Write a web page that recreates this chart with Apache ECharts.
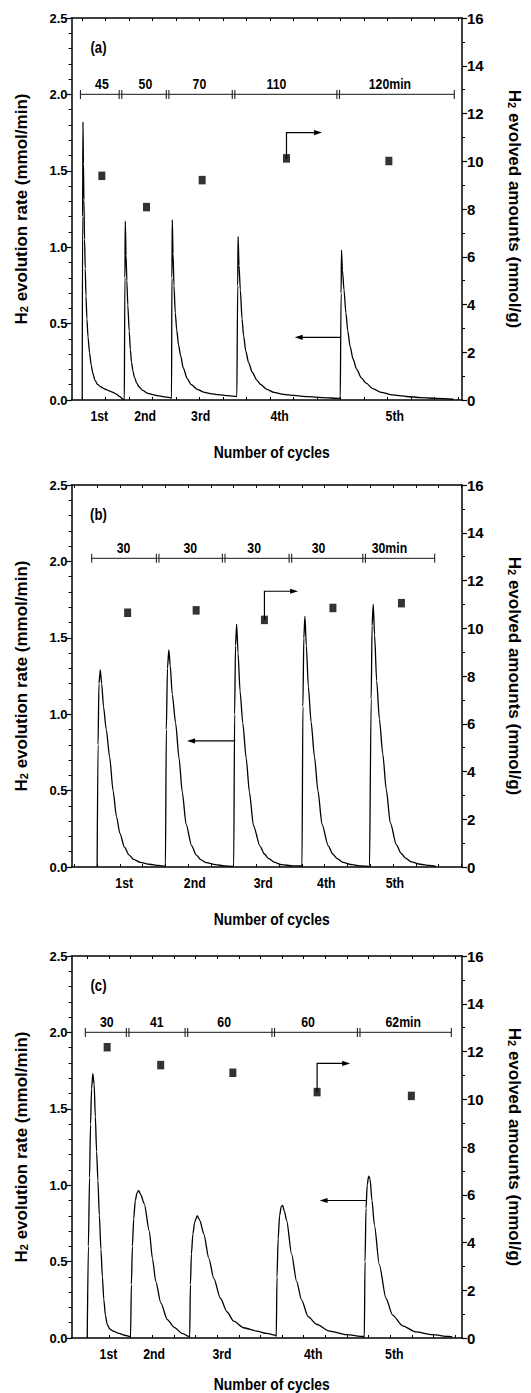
<!DOCTYPE html>
<html><head><meta charset="utf-8">
<script src="https://cdn.jsdelivr.net/npm/echarts@6/dist/echarts.min.js"></script>
<style>html,body{margin:0;padding:0;background:#fff}#c{width:531px;height:1393px}</style>
</head><body><div id="c"></div>
<script>
// ---------------- DATA ----------------
const cycleNames = ['1st', '2nd', '3rd', '4th', '5th'];

// Panel (a): x in minutes
const rateA = [
  [0,0],[0.4,1.2],[0.8,1.82],[1.3,1.55],[1.8,1.31],[2.5,1.05],[3.2,0.86],[4,0.68],[5,0.53],[6.2,0.41],[7.8,0.31],[9.5,0.23],[11.3,0.175],[13.5,0.13],[16.6,0.1],[20,0.085],[24,0.072],[28,0.062],[32,0.052],[36,0.04],[40,0.022],[43,0.008],[44.8,0],
  [45,0],[45.4,0.8],[45.8,1.17],[46.6,0.95],[47.5,0.78],[48.5,0.62],[50,0.45],[51.2,0.33],[52.4,0.25],[54,0.19],[55.5,0.15],[58,0.11],[60.6,0.085],[64,0.065],[69,0.045],[75,0.035],[82,0.027],[88,0.02],[94.5,0.014],
  [95,0.01],[95.4,0.8],[95.8,1.18],[96.6,0.96],[97.6,0.75],[99,0.57],[100.5,0.46],[102.5,0.36],[104.7,0.29],[107.5,0.21],[111.7,0.14],[116,0.1],[122.3,0.07],[129,0.052],[136.4,0.042],[145,0.035],[155,0.028],[164.5,0.022],
  [165,0.02],[165.4,0.75],[165.8,1.07],[166.8,0.88],[168.2,0.72],[170,0.53],[171.7,0.42],[174,0.32],[177,0.245],[181,0.18],[185.7,0.13],[190,0.1],[196.3,0.07],[204,0.05],[214,0.037],[225,0.03],[240,0.022],[255,0.016],[274.5,0.01],
  [275,0.008],[275.4,0.7],[275.8,0.98],[276.8,0.85],[278.5,0.72],[280.5,0.57],[282.5,0.45],[285,0.35],[288,0.27],[292,0.2],[297,0.145],[302,0.11],[309,0.075],[318,0.05],[330,0.033],[345,0.023],[360,0.016],[378,0.01],[395,0.005]
];
const amountA = [[20.9,9.39],[68.4,8.08],[127.6,9.21],[217.3,10.12],[326.2,10.01]];
const cycleLabelPosA = [18.2, 66.9, 126, 210, 332.5];
const durTextA = ['45', '50', '70', '110', '120min'];
const durBoundsA = [-1.9, 40.7, 90.8, 161, 272.3, 395.8];
const durTextPosA = [21, 67.2, 124.7, 206.6, 327.3];
const durLevelA = 2.0;
const xRangeA = [-11.4, 404];
const xTicksA = [0,25,50,75,100,125,150,175,200,225,250,275,300,325,350,375,400];
const arrowRightA = [217.3, 10.12, 11.2, 255];   // x, y from, y to, x end (right axis)
const arrowLeftA = [275, 226, 0.41];             // x from, x to, y (left axis)

// Panel (b)
const rateB = [
  [0,0],[0.4,0.8],[0.8,1.2],[1.4,1.29],[2.0,1.2],[2.8,1.05],[4,0.9],[5.5,0.72],[7,0.5],[8.5,0.33],[10,0.22],[12,0.13],[14,0.08],[16,0.05],[19,0.03],[23,0.018],[27,0.01],[29.7,0.006],
  [30,0.004],[30.4,0.9],[30.9,1.3],[31.5,1.42],[32.1,1.32],[33,1.13],[34.5,0.94],[36,0.71],[37.4,0.49],[39.1,0.28],[41.5,0.14],[43.5,0.08],[45.5,0.048],[48,0.028],[52,0.015],[56,0.008],[59.6,0.004],
  [60,0.004],[60.4,1.0],[60.8,1.45],[61.3,1.59],[61.9,1.4],[62.8,1.15],[64,0.94],[65.5,0.71],[66.9,0.49],[68.7,0.27],[71.6,0.135],[73.5,0.085],[75.2,0.057],[78,0.03],[81,0.015],[86,0.008],[89.7,0.008],
  [90,0.004],[90.4,1.05],[90.8,1.5],[91.3,1.64],[91.9,1.45],[92.8,1.18],[94,0.95],[95.5,0.72],[97,0.5],[98.8,0.28],[101.5,0.14],[103.5,0.085],[105.5,0.055],[108,0.03],[112,0.015],[116,0.007],[119.7,0.004],
  [120,0.004],[120.4,1.1],[120.8,1.58],[121.3,1.72],[121.9,1.52],[122.8,1.22],[124,0.97],[125.5,0.74],[127,0.51],[128.8,0.29],[131.5,0.145],[133.5,0.09],[135.5,0.058],[138,0.033],[142,0.018],[146,0.01],[148.7,0.006]
];
const amountB = [[13.4,10.65],[43.5,10.75],[73.5,10.35],[103.6,10.85],[133.7,11.05]];
const cycleLabelPosB = [11.9, 42.9, 73, 100.7, 130.8];
const durTextB = ['30', '30', '30', '30', '30min'];
const durBoundsB = [-2.4, 26.6, 55.6, 84.9, 117.3, 148.3];
const durTextPosB = [11.6, 40.9, 69, 97.3, 128.4];
const durLevelB = 2.02;
const xRangeB = [-11.26, 160.3];
const xTicksB = [-10,0,10,20,30,40,50,60,70,80,90,100,110,120,130,140,150,160];
const arrowRightB = [73.5, 10.35, 11.55, 88.3];
const arrowLeftB = [60.7, 39.5, 0.825];

// Panel (c)
const rateC = [
  [0,0],[0.8,0.6],[1.6,1.05],[2.3,1.4],[3.0,1.63],[3.9,1.73],[4.8,1.66],[5.6,1.45],[6.5,1.22],[7.4,1.03],[8.4,0.8],[9.5,0.58],[10.5,0.4],[11.5,0.25],[12.6,0.15],[13.8,0.09],[15.5,0.06],[18,0.045],[22,0.03],[26,0.018],[29.7,0.01],
  [30,0.005],[30.6,0.35],[31.3,0.6],[32.2,0.78],[33.3,0.9],[34.5,0.95],[35.6,0.965],[37,0.94],[39.5,0.88],[43,0.7],[45.2,0.52],[47.5,0.37],[51,0.23],[55.5,0.12],[60.2,0.07],[65.9,0.03],[70.5,0.01],
  [71,0.005],[71.5,0.35],[72.2,0.55],[73.2,0.68],[74.5,0.76],[76.2,0.8],[78,0.77],[80.8,0.68],[84.3,0.52],[87.7,0.39],[92.3,0.26],[96.9,0.17],[101.5,0.11],[108.4,0.067],[117.5,0.045],[124.4,0.03],[130.8,0.018],
  [131,0.01],[131.5,0.4],[132.3,0.65],[133.3,0.8],[134.4,0.86],[135.4,0.867],[136.6,0.83],[138.2,0.77],[141.6,0.55],[145.1,0.37],[148.5,0.25],[153.1,0.14],[158.8,0.09],[168,0.045],[179.5,0.022],[191.5,0.01],
  [192,0.005],[192.5,0.5],[193.2,0.85],[194,1.0],[195,1.06],[196,1.04],[197.3,0.9],[199,0.74],[202.4,0.48],[207,0.26],[211.6,0.15],[218.5,0.08],[227.7,0.04],[239.2,0.022],[250.7,0.01],[253,0.008]
];
const amountC = [[13.8,12.18],[50.9,11.43],[100.9,11.11],[159.3,10.3],[224.6,10.14]];
const cycleLabelPosC = [14.7, 46.4, 93.4, 156.6, 212.8];
const durTextC = ['30', '41', '60', '60', '62min'];
const durBoundsC = [-1.3, 28, 68.7, 128.9, 188.1, 252.3];
const durTextPosC = [13.6, 48.2, 94.9, 153, 219];
const durLevelC = 2.0;
const xRangeC = [-10.9, 259.7];
const xTicksC = [0,15,30,45,60,75,90,105,120,135,150,165,180,195,210,225,240,255];
const arrowRightC = [159.3, 10.3, 11.5, 182.2];
const arrowLeftC = [193.2, 161, 0.90];

const panelLetters = ['(a)', '(b)', '(c)'];
const xTitle = 'Number of cycles';

// ---------------- LAYOUT / STYLE ----------------
const F_S = '"Liberation Sans",Arial,sans-serif';
const NARROW = 0.82;           // condensed look of the original lettering
const gridTops = [18, 485, 956];
const xTitleGap = [52, 52, 46];
const gridH = 382, gridL = 71.5, gridR = 59, W = 531;
const letterOffset = [27, 29.5];   // x from left axis, y from top

const panels = [
  {rate: rateA, amount: amountA, lab: cycleLabelPosA, dt: durTextA, db: durBoundsA, dp: durTextPosA, dl: durLevelA, xr: xRangeA, xt: xTicksA, ar: arrowRightA, al: arrowLeftA},
  {rate: rateB, amount: amountB, lab: cycleLabelPosB, dt: durTextB, db: durBoundsB, dp: durTextPosB, dl: durLevelB, xr: xRangeB, xt: xTicksB, ar: arrowRightB, al: arrowLeftB},
  {rate: rateC, amount: amountC, lab: cycleLabelPosC, dt: durTextC, db: durBoundsC, dp: durTextPosC, dl: durLevelC, xr: xRangeC, xt: xTicksC, ar: arrowRightC, al: arrowLeftC}
];

const grid = [], xAxis = [], yAxis = [], series = [], graphic = [];
const black = '#000';

function head(x, y, dir) {
  const L = 8, Wd = 2.6;
  return {type: 'polygon', shape: {points: [[x, y], [x - dir * L, y - Wd], [x - dir * L, y + Wd]]}, style: {fill: black}};
}
function narrowText(text, x, y, size, va) {
  return {type: 'text', x: x, y: y, scaleX: NARROW,
    style: {text: text, align: 'center', verticalAlign: va || 'middle', font: 'bold ' + size + 'px ' + F_S, fill: black}};
}
const richName = {
  b: {fontFamily: F_S, fontWeight: 'bold', fontSize: 17, color: black, lineHeight: 20, verticalAlign: 'bottom'},
  s: {fontFamily: F_S, fontWeight: 'bold', fontSize: 11, color: black, lineHeight: 10, verticalAlign: 'bottom'}
};

panels.forEach((P, p) => {
  grid.push({left: gridL, right: gridR, top: gridTops[p], height: gridH, containLabel: false});
  const xb = 2 * p, yl = 2 * p, yr = 2 * p + 1;
  xAxis.push({
    type: 'value', gridIndex: p, position: 'bottom', min: P.xr[0], max: P.xr[1],
    axisLine: {show: true, onZero: false, lineStyle: {color: black, width: 1.5}},
    axisTick: {show: true, inside: true, length: 3, customValues: P.xt, lineStyle: {color: black, width: 1}},
    axisLabel: {show: false}, splitLine: {show: false}
  });
  xAxis.push({
    type: 'value', gridIndex: p, position: 'top', min: P.xr[0], max: P.xr[1],
    axisLine: {show: true, onZero: false, lineStyle: {color: black, width: 1.5}},
    axisTick: {show: true, inside: true, length: 3, customValues: P.xt, lineStyle: {color: black, width: 1}},
    axisLabel: {show: false}, splitLine: {show: false}
  });
  yAxis.push({
    type: 'value', gridIndex: p, position: 'left', min: 0, max: 2.5, interval: 0.5,
    axisLine: {show: true, onZero: false, lineStyle: {color: black, width: 1.5}},
    axisTick: {show: true, inside: false, length: 5, lineStyle: {color: black, width: 1.2}},
    minorTick: {show: true, splitNumber: 5, length: 3, lineStyle: {color: black, width: 1}},
    axisLabel: {margin: 4, color: black, fontFamily: F_S, fontWeight: 'bold', fontSize: 13, formatter: v => v.toFixed(1)},
    splitLine: {show: false},
    name: '{b|H}{s|2}{b| evolution rate (mmol/min)}', nameLocation: 'middle', nameGap: 42, nameRotate: 90,
    nameTextStyle: {rich: richName}
  });
  yAxis.push({
    type: 'value', gridIndex: p, position: 'right', min: 0, max: 16, interval: 2,
    axisLine: {show: true, onZero: false, lineStyle: {color: black, width: 1.5}},
    axisTick: {show: true, inside: false, length: 5, lineStyle: {color: black, width: 1.2}},
    minorTick: {show: true, splitNumber: 2, length: 3, lineStyle: {color: black, width: 1}},
    axisLabel: {margin: 5, color: black, fontFamily: F_S, fontWeight: 'bold', fontSize: 15},
    splitLine: {show: false},
    name: '{b|H}{s|2}{b| evolved amounts (mmol/g)}', nameLocation: 'middle', nameGap: 44, nameRotate: -90,
    nameTextStyle: {rich: richName}
  });

  series.push({
    type: 'line', xAxisIndex: xb, yAxisIndex: yl, data: P.rate, showSymbol: false, symbol: 'none',
    smooth: 0.25, smoothMonotone: 'x', lineStyle: {color: black, width: 1.3}, z: 3
  });
  // cycle labels under the x axis
  series.push({
    type: 'custom', xAxisIndex: xb, yAxisIndex: yl, data: P.lab.map(v => [v, 0]), encode: {x: 0, y: 1}, clip: false, z: 4,
    renderItem: (params, api) => {
      const c = api.coord([api.value(0), 0]);
      return narrowText(cycleNames[params.dataIndex], c[0], c[1] + 16, 15);
    }
  });
  // duration bracket
  const durData = P.dt.map((_, i) => [P.db[i], P.db[i + 1], P.dp[i], P.dl]);
  series.push({
    type: 'custom', xAxisIndex: xb, yAxisIndex: yl, data: durData, encode: {x: [0, 1, 2], y: 3}, clip: false, z: 4,
    renderItem: (params, api) => {
      const i = params.dataIndex;
      const s = api.coord([api.value(0), api.value(3)]);
      const e = api.coord([api.value(1), api.value(3)]);
      const t = api.coord([api.value(2), api.value(3)]);
      const h = 4.5;
      const tick = x => ({type: 'line', shape: {x1: x, y1: s[1] - h, x2: x, y2: s[1] + h}, style: {stroke: '#222', lineWidth: 1.1}});
      const ch = [{type: 'line', shape: {x1: s[0], y1: s[1], x2: e[0], y2: e[1]}, style: {stroke: '#444', lineWidth: 1.2}}];
      if (i === 0) ch.push(tick(s[0])); else { ch.push(tick(s[0] - 1.3)); ch.push(tick(s[0] + 1.3)); }
      if (i === P.dt.length - 1) ch.push(tick(e[0]));
      ch.push(narrowText(P.dt[i], t[0], s[1] - 10, 15));
      return {type: 'group', children: ch};
    }
  });
  // left arrow (rate axis)
  series.push({
    type: 'custom', xAxisIndex: xb, yAxisIndex: yl, data: [P.al], encode: {x: [0, 1], y: 2}, clip: false, z: 4,
    renderItem: (params, api) => {
      const a = api.coord([api.value(0), api.value(2)]);
      const b = api.coord([api.value(1), api.value(2)]);
      return {type: 'group', children: [
        {type: 'line', shape: {x1: a[0], y1: a[1], x2: b[0] + 7, y2: b[1]}, style: {stroke: black, lineWidth: 1.2}},
        head(b[0], b[1], -1)]};
    }
  });
  // right arrow (amount axis)
  series.push({
    type: 'custom', xAxisIndex: xb, yAxisIndex: yr, data: [P.ar], encode: {x: [0, 3], y: [1, 2]}, clip: false, z: 4,
    renderItem: (params, api) => {
      const a = api.coord([api.value(0), api.value(1)]);
      const b = api.coord([api.value(0), api.value(2)]);
      const c = api.coord([api.value(3), api.value(2)]);
      return {type: 'group', children: [
        {type: 'polyline', shape: {points: [a, b, [c[0] - 7, c[1]]]}, style: {stroke: black, lineWidth: 1.2, fill: null}},
        head(c[0], c[1], 1)]};
    }
  });
  series.push({
    type: 'scatter', xAxisIndex: xb, yAxisIndex: yr, data: P.amount, symbol: 'rect', symbolSize: [7, 8.5],
    itemStyle: {color: black}, z: 6
  });
  graphic.push(narrowText(panelLetters[p], gridL + letterOffset[0], gridTops[p] + letterOffset[1], 16));
  graphic.push(narrowText(xTitle, gridL + (W - gridL - gridR) / 2, gridTops[p] + gridH + xTitleGap[p], 17));
});

const chart = echarts.init(document.getElementById('c'), null, {renderer: 'svg', width: 531, height: 1393});
chart.setOption({animation: false, backgroundColor: '#fff', grid, xAxis, yAxis, series, graphic});
</script></body></html>
